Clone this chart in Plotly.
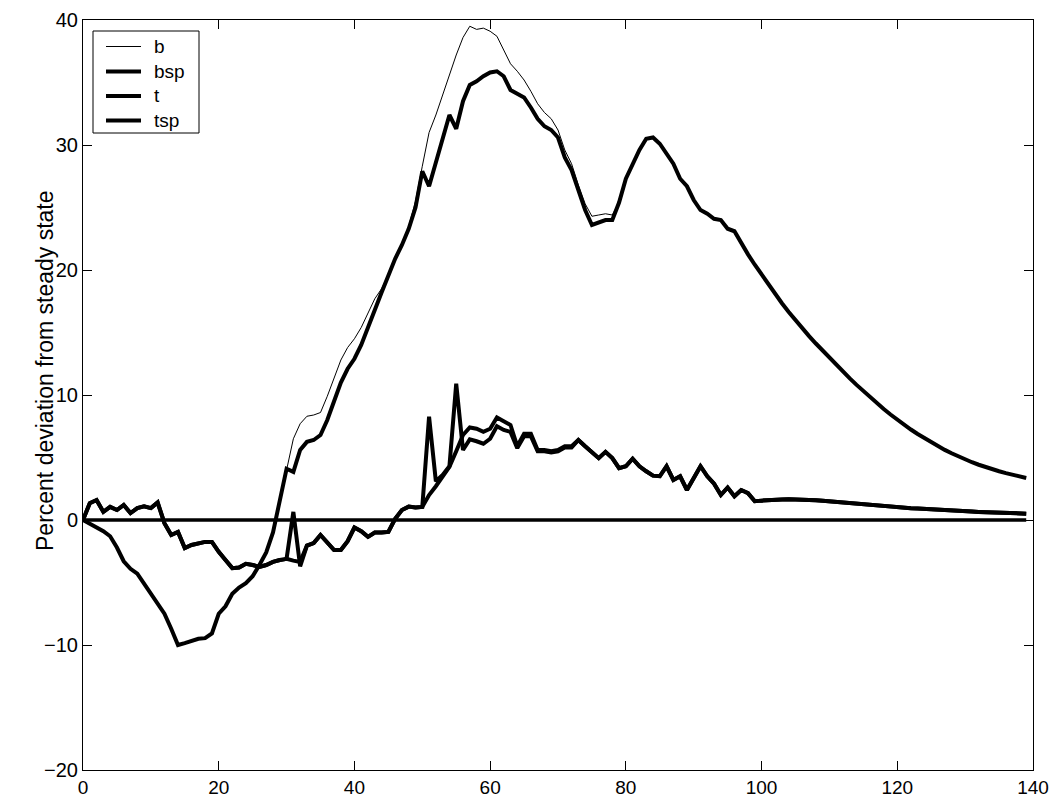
import plotly.graph_objects as go

# Horizon (periods after the shock)
periods = list(range(140))

# b: baseline response (thin line)
b = [0, -0.3, -0.6, -0.9, -1.3, -2.2, -3.3, -3.9, -4.3, -5.1,
     -5.85, -6.6, -7.5, -8.7, -10.0, -9.85, -9.65, -9.5, -9.45, -9.07,
     -7.5, -6.9, -5.9, -5.4, -5.05, -4.5, -3.6, -2.6, -1.0, 1.5,
     4.1, 6.5, 7.7, 8.3, 8.4, 8.6, 9.9, 11.3, 12.8, 13.8,
     14.5, 15.4, 16.6, 17.7, 18.5, 19.6, 20.9, 22.1, 23.5, 25.5,
     28.3, 31.0, 32.4, 34.0, 35.6, 37.2, 38.6, 39.5, 39.25, 39.35,
     39.1, 38.7, 37.6, 36.5, 35.9, 35.2, 34.3, 33.3, 32.6, 32.1,
     31.2, 29.6, 28.5, 26.8, 25.3, 24.3, 24.4, 24.5, 24.4, 25.4,
     27.3, 28.4, 29.6, 30.5, 30.6, 30.1, 29.3, 28.5, 27.3, 26.7,
     25.6, 24.8, 24.5, 24.1, 24.0, 23.3, 23.1, 22.1, 21.25, 20.42,
     19.62, 18.83, 18.07, 17.34, 16.64, 15.97, 15.33, 14.71, 14.12, 13.54,
     12.97, 12.41, 11.86, 11.33, 10.81, 10.30, 9.81, 9.33, 8.88, 8.44,
     8.02, 7.62, 7.24, 6.88, 6.54, 6.21, 5.90, 5.61, 5.34, 5.08,
     4.84, 4.62, 4.42, 4.23, 4.06, 3.90, 3.75, 3.61, 3.48, 3.36]

# bsp: response with the spread shocks
bsp = [0, -0.3, -0.6, -0.9, -1.3, -2.2, -3.3, -3.9, -4.3, -5.1,
       -5.85, -6.6, -7.5, -8.7, -10.0, -9.85, -9.65, -9.5, -9.45, -9.07,
       -7.5, -6.9, -5.9, -5.4, -5.05, -4.5, -3.6, -2.6, -1.0, 1.5,
       4.1, 3.85, 5.6, 6.25, 6.4, 6.8, 8.0, 9.5, 11.0, 12.1,
       12.9, 14.0, 15.5, 16.8, 18.2, 19.6, 20.9, 22.0, 23.3, 25.0,
       27.9, 26.7, 28.6, 30.5, 32.4, 31.3, 33.5, 34.8, 35.1, 35.5,
       35.8, 35.9, 35.5, 34.4, 34.1, 33.8, 33.0, 32.1, 31.5, 31.2,
       30.6, 29.0, 28.0, 26.3, 24.8, 23.6, 23.8, 24.0, 24.0, 25.4,
       27.3, 28.4, 29.6, 30.5, 30.6, 30.1, 29.3, 28.5, 27.3, 26.7,
       25.6, 24.8, 24.5, 24.1, 24.0, 23.3, 23.1, 22.1, 21.25, 20.42,
       19.62, 18.83, 18.07, 17.34, 16.64, 15.97, 15.33, 14.71, 14.12, 13.54,
       12.97, 12.41, 11.86, 11.33, 10.81, 10.30, 9.81, 9.33, 8.88, 8.44,
       8.02, 7.62, 7.24, 6.88, 6.54, 6.21, 5.90, 5.61, 5.34, 5.08,
       4.84, 4.62, 4.42, 4.23, 4.06, 3.90, 3.75, 3.61, 3.48, 3.36]

# t: baseline response of the second variable
t = [0, 1.35, 1.6, 0.65, 1.05, 0.8, 1.2, 0.55, 0.95, 1.1,
     0.95, 1.4, -0.25, -1.2, -0.95, -2.25, -2.0, -1.85, -1.75, -1.75,
     -2.55, -3.2, -3.85, -3.8, -3.5, -3.6, -3.75, -3.6, -3.35, -3.2,
     -3.1, -3.25, -3.35, -2.05, -1.85, -1.2, -1.75, -2.4, -2.4, -1.7,
     -0.6, -0.9, -1.35, -1.0, -1.0, -0.95, 0.1, 0.8, 1.07, 1.0,
     1.05, 2.0, 2.7, 3.5, 4.25, 5.5, 6.8, 7.4, 7.3, 7.05,
     7.3, 8.2, 7.9, 7.6, 5.9, 6.9, 6.9, 5.6, 5.6, 5.5,
     5.6, 5.9, 5.9, 6.4, 5.9, 5.4, 4.95, 5.45, 4.95, 4.15,
     4.3, 4.9, 4.3, 3.9, 3.55, 3.5, 4.3, 3.2, 3.5, 2.4,
     3.35, 4.3, 3.5, 2.9, 2.0, 2.6, 1.9, 2.4, 2.15, 1.5,
     1.55, 1.6, 1.62, 1.65, 1.66, 1.66, 1.65, 1.62, 1.58, 1.54,
     1.49, 1.44, 1.39, 1.34, 1.29, 1.24, 1.2, 1.15, 1.11, 1.07,
     1.03, 0.99, 0.95, 0.92, 0.88, 0.85, 0.82, 0.79, 0.76, 0.73,
     0.7, 0.68, 0.65, 0.63, 0.61, 0.59, 0.57, 0.55, 0.53, 0.51]

# tsp: second variable with the spread shocks
tsp = [0, 1.35, 1.6, 0.65, 1.05, 0.8, 1.2, 0.55, 0.95, 1.1,
       0.95, 1.4, -0.25, -1.2, -0.95, -2.25, -2.0, -1.85, -1.75, -1.75,
       -2.55, -3.2, -3.85, -3.8, -3.5, -3.6, -3.75, -3.6, -3.35, -3.2,
       -3.1, 0.65, -3.7, -2.05, -1.85, -1.2, -1.75, -2.4, -2.4, -1.7,
       -0.6, -0.9, -1.35, -1.0, -1.0, -0.95, 0.1, 0.8, 1.07, 1.0,
       1.05, 8.27, 3.1, 3.6, 4.3, 10.9, 5.6, 6.45, 6.3, 6.1,
       6.5, 7.5, 7.2, 7.05, 5.75, 6.7, 6.7, 5.5, 5.5, 5.4,
       5.5, 5.8, 5.8, 6.4, 5.9, 5.4, 4.95, 5.45, 4.95, 4.15,
       4.3, 4.9, 4.3, 3.9, 3.55, 3.5, 4.3, 3.2, 3.5, 2.4,
       3.35, 4.3, 3.5, 2.9, 2.0, 2.6, 1.9, 2.4, 2.15, 1.5,
       1.55, 1.6, 1.62, 1.65, 1.66, 1.66, 1.65, 1.62, 1.58, 1.54,
       1.49, 1.44, 1.39, 1.34, 1.29, 1.24, 1.2, 1.15, 1.11, 1.07,
       1.03, 0.99, 0.95, 0.92, 0.88, 0.85, 0.82, 0.79, 0.76, 0.73,
       0.7, 0.68, 0.65, 0.63, 0.61, 0.59, 0.57, 0.55, 0.53, 0.51]

# Steady-state reference line
steady = [0.0] * len(periods)

series_names = ["b", "bsp", "t", "tsp"]
series_values = [b, bsp, t, tsp]
series_widths = [1, 4, 4, 4]

FONT = "Liberation Sans, Arial, Helvetica, sans-serif"
W, H = 1053, 797
M_L, M_R, M_T, M_B = 83, 20, 20, 27
PW, PH = W - M_L - M_R, H - M_T - M_B


def px_to_paper(px, py):
    """Convert a pixel position on the page to paper coordinates."""
    return (px - M_L) / PW, 1 - (py - M_T) / PH


fig = go.Figure()
for name, vals, w in zip(series_names, series_values, series_widths):
    fig.add_trace(go.Scatter(x=periods, y=vals, mode="lines", name=name,
                             line=dict(color="black", width=w)))
fig.add_trace(go.Scatter(x=periods, y=steady, mode="lines", name="steady state",
                         line=dict(color="black", width=3.5)))

axis_common = dict(showline=True, linecolor="black", linewidth=1, mirror="ticks",
                   ticks="inside", ticklen=9, tickwidth=1, tickcolor="black",
                   showgrid=False, zeroline=False, automargin=False)

fig.update_xaxes(range=[0, 140], tickmode="linear", tick0=0, dtick=20,
                 tickfont=dict(family=FONT, size=19, color="black"), **axis_common)
fig.update_yaxes(range=[-20, 40], tickmode="linear", tick0=-20, dtick=10,
                 tickfont=dict(family=FONT, size=20, color="black"), **axis_common)

# Y-axis label
lx, ly = px_to_paper(45, 371)
annotations = [dict(text="Percent deviation from steady state", x=lx, y=ly,
                    xref="paper", yref="paper", textangle=-90, showarrow=False,
                    xanchor="center", yanchor="middle",
                    font=dict(family=FONT, size=23, color="black"))]

# Boxed key in the upper-left corner
shapes = []
bx0, by0 = px_to_paper(93, 31)
bx1, by1 = px_to_paper(199, 133)
shapes.append(dict(type="rect", xref="paper", yref="paper", x0=bx0, x1=bx1,
                   y0=by1, y1=by0, line=dict(color="black", width=1),
                   fillcolor="white", layer="above"))
row_y = [46.5, 71.5, 96, 120.5]
for name, w, ry in zip(series_names, series_widths, row_y):
    sx0, sy = px_to_paper(106, ry)
    sx1, _ = px_to_paper(141, ry)
    shapes.append(dict(type="line", xref="paper", yref="paper", x0=sx0, x1=sx1,
                       y0=sy, y1=sy, line=dict(color="black", width=w), layer="above"))
    tx, ty = px_to_paper(152, ry)
    annotations.append(dict(text=name, x=tx, y=ty, xref="paper", yref="paper",
                            showarrow=False, xanchor="left", yanchor="middle",
                            font=dict(family=FONT, size=19, color="black")))

fig.update_layout(
    width=W, height=H,
    margin=dict(l=M_L, r=M_R, t=M_T, b=M_B),
    paper_bgcolor="white", plot_bgcolor="white",
    showlegend=False,
    shapes=shapes,
    annotations=annotations,
)

fig.write_html("out.html")
